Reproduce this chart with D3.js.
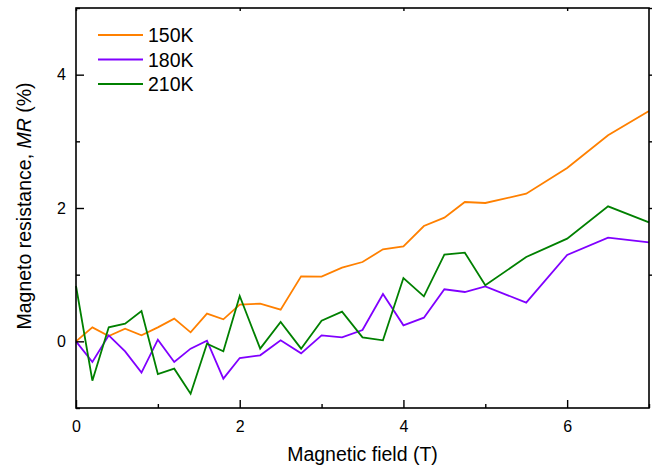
<!DOCTYPE html>
<html>
<head>
<meta charset="utf-8">
<script src="https://cdn.jsdelivr.net/npm/d3@7"></script>
<style>
  body { margin: 0; background: #fff; }
  text { font-family: "Liberation Sans", Arial, sans-serif; fill: #000; }
  .line { fill: none; stroke-width: 1.8; stroke-linejoin: miter; }
  .line1 { stroke: #ff8000; }
  .line2 { stroke: #8000ff; }
  .line3 { stroke: #008000; }
</style>
</head>
<body>
<script>
// field values (T)
var field = [0, 0.2, 0.4, 0.6, 0.8, 1.0, 1.2, 1.4, 1.6, 1.8, 2.0, 2.25, 2.5, 2.75,
             3.0, 3.25, 3.5, 3.75, 4.0, 4.25, 4.5, 4.75, 5.0, 5.5, 6.0, 6.5, 7.0];

// MR (%) per temperature
var mr150 = [0, 0.21, 0.08, 0.19, 0.09, 0.21, 0.34, 0.135, 0.415, 0.33, 0.55, 0.565, 0.475, 0.975,
             0.97, 1.105, 1.19, 1.38, 1.425, 1.73, 1.855, 2.09, 2.075, 2.215, 2.6, 3.09, 3.455];
var mr180 = [0, -0.31, 0.09, -0.15, -0.47, 0.025, -0.31, -0.11, 0.01, -0.56, -0.25, -0.21, 0.015, -0.18,
             0.09, 0.06, 0.17, 0.71, 0.24, 0.355, 0.78, 0.74, 0.825, 0.58, 1.295, 1.555, 1.485];
var mr210 = [0.83, -0.59, 0.21, 0.265, 0.455, -0.49, -0.41, -0.785, -0.035, -0.15, 0.68, -0.11, 0.29, -0.11,
             0.31, 0.445, 0.06, 0.015, 0.95, 0.675, 1.3, 1.33, 0.84, 1.265, 1.54, 2.025, 1.785];

var seriesNames = ["150K", "180K", "210K"];
var xTicks = [0, 2, 4, 6];
var yTicks = [0, 2, 4];

var margin = {top: 8, right: 10, bottom: 60, left: 76},
    width = 659 - margin.left - margin.right,
    height = 468 - margin.top - margin.bottom;

var x = d3.scaleLinear().domain([0, 7]).range([0, width]);
var y = d3.scaleLinear().domain([-1, 5]).range([height, 0]);

var svg = d3.select("body").append("svg")
    .attr("width", 659)
    .attr("height", 468)
  .append("g")
    .attr("transform", "translate(" + margin.left + "," + margin.top + ")");

var series = [mr150, mr180, mr210];

series.forEach(function(vals, i) {
  var line = d3.line()
      .x(function(d, j) { return x(field[j]); })
      .y(function(d) { return y(d); });
  svg.append("path")
      .datum(vals)
      .attr("class", "line line" + (i + 1))
      .attr("d", line);
});

// frame
svg.append("rect")
    .attr("width", width)
    .attr("height", height)
    .attr("fill", "none")
    .attr("stroke", "#000")
    .attr("stroke-width", 1.6);

function styleAxis(g) {
  g.select(".domain").remove();
  g.selectAll("line").attr("stroke", "#000").attr("stroke-width", 1.4);
  g.selectAll("text").style("font-size", "16px");
}

// bottom axis, ticks inward
svg.append("g")
    .attr("transform", "translate(0," + height + ")")
    .call(d3.axisBottom(x).tickValues(xTicks).tickFormat(d3.format("d")).tickSizeInner(-8).tickSizeOuter(0).tickPadding(13))
    .call(styleAxis);
svg.append("g")
    .attr("transform", "translate(0," + height + ")")
    .call(d3.axisBottom(x).tickValues([1, 3, 5, 7]).tickFormat("").tickSizeInner(-4).tickSizeOuter(0))
    .call(styleAxis);

// left axis
svg.append("g")
    .call(d3.axisLeft(y).tickValues(yTicks).tickFormat(d3.format("d")).tickSizeInner(-8).tickSizeOuter(0).tickPadding(10))
    .call(styleAxis);
svg.append("g")
    .call(d3.axisLeft(y).tickValues([-1, 1, 3, 5]).tickFormat("").tickSizeInner(-4).tickSizeOuter(0))
    .call(styleAxis);

// mirror ticks top and right
svg.append("g")
    .call(d3.axisTop(x).tickValues(xTicks).tickFormat("").tickSizeInner(-3).tickSizeOuter(0))
    .call(styleAxis);
svg.append("g")
    .attr("transform", "translate(" + width + ",0)")
    .call(d3.axisRight(y).tickValues([1, 2, 3, 4, 5]).tickFormat("").tickSizeInner(3).tickSizeOuter(0))
    .call(styleAxis);

// axis titles
svg.append("text")
    .attr("x", width / 2)
    .attr("y", height + 53)
    .attr("text-anchor", "middle")
    .style("font-size", "19.5px")
    .text("Magnetic field (T)");

var yl = svg.append("text")
    .attr("transform", "translate(" + (-45) + "," + 198 + ") rotate(-90)")
    .attr("text-anchor", "middle")
    .style("font-size", "19.5px");
yl.append("tspan").text("Magneto resistance, ");
yl.append("tspan").style("font-style", "italic").text("MR");
yl.append("tspan").text(" (%)");

// legend
var legend = svg.append("g").attr("transform", "translate(22,27)");
seriesNames.forEach(function(name, i) {
  var row = legend.append("g").attr("transform", "translate(0," + (i * 24.5) + ")");
  row.append("line")
      .attr("class", "line line" + (i + 1))
      .attr("x1", 0).attr("x2", 45);
  row.append("text")
      .attr("x", 50)
      .attr("dy", "0.36em")
      .style("font-size", "19.5px")
      .text(name);
});
</script>
</body>
</html>
